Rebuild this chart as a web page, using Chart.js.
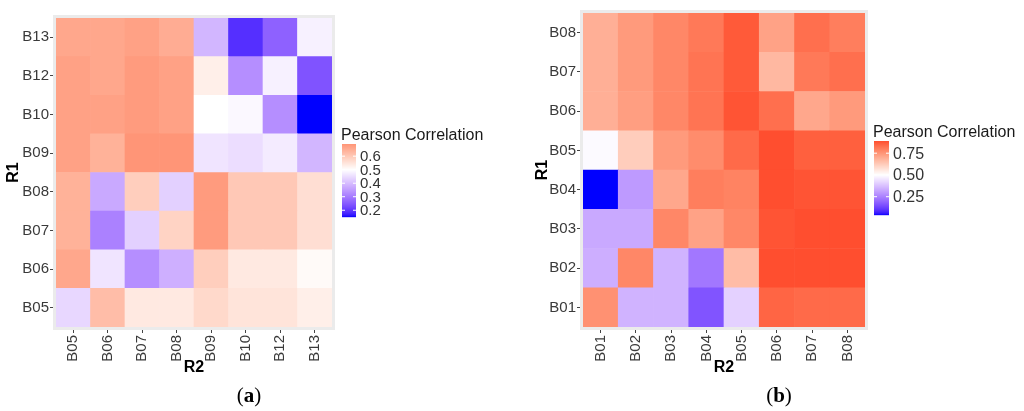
<!DOCTYPE html>
<html>
<head>
<meta charset="utf-8">
<script src="https://cdn.jsdelivr.net/npm/chart.js@4/dist/chart.umd.min.js"></script>
<style>
  body { margin: 0; background: #fff; width: 1024px; height: 411px; position: relative; overflow: hidden; }
  .panel { position: absolute; top: 0; height: 411px; }
  .cap { position: absolute; top: 383px; font-family: "Liberation Serif", serif; font-size: 21px; color: #000; transform: translateX(-50%); }
</style>
</head>
<body>
<div class="panel" style="left:0;width:510px;"><canvas id="heatA"></canvas></div>
<div class="panel" style="left:520px;width:504px;"><canvas id="heatB"></canvas></div>
<div class="cap" style="left:249px;">(<b>a</b>)</div>
<div class="cap" style="left:779px;">(<b>b</b>)</div>
<script>
// panel (a) : R2 columns, R1 rows (bottom -> top)
const colsA = ['B05', 'B06', 'B07', 'B08', 'B09', 'B10', 'B12', 'B13'];
const rowsA = ['B05', 'B06', 'B07', 'B08', 'B09', 'B10', 'B12', 'B13'];
const a_B05 = [0.44, 0.62, 0.54, 0.54, 0.57, 0.55, 0.55, 0.53];
const a_B06 = [0.66, 0.46, 0.33, 0.38, 0.59, 0.54, 0.54, 0.51];
const a_B07 = [0.64, 0.31, 0.43, 0.58, 0.68, 0.60, 0.60, 0.56];
const a_B08 = [0.64, 0.37, 0.59, 0.43, 0.68, 0.60, 0.60, 0.56];
const a_B09 = [0.67, 0.64, 0.69, 0.69, 0.46, 0.45, 0.47, 0.39];
const a_B10 = [0.67, 0.67, 0.68, 0.67, 0.50, 0.49, 0.33, 0.15];
const a_B12 = [0.67, 0.66, 0.68, 0.67, 0.53, 0.33, 0.48, 0.24];
const a_B13 = [0.66, 0.66, 0.67, 0.65, 0.39, 0.19, 0.26, 0.48];
const ticksA = [0.2, 0.3, 0.4, 0.5, 0.6];

// panel (b)
const colsB = ['B01', 'B02', 'B03', 'B04', 'B05', 'B06', 'B07', 'B08'];
const rowsB = ['B01', 'B02', 'B03', 'B04', 'B05', 'B06', 'B07', 'B08'];
const b_B01 = [0.76, 0.35, 0.35, 0.16, 0.41, 0.85, 0.84, 0.84];
const b_B02 = [0.34, 0.78, 0.35, 0.23, 0.66, 0.89, 0.89, 0.89];
const b_B03 = [0.33, 0.33, 0.78, 0.72, 0.78, 0.88, 0.89, 0.89];
const b_B04 = [0.04, 0.30, 0.71, 0.80, 0.79, 0.89, 0.88, 0.88];
const b_B05 = [0.49, 0.62, 0.74, 0.77, 0.84, 0.89, 0.86, 0.86];
const b_B06 = [0.69, 0.73, 0.78, 0.82, 0.88, 0.83, 0.71, 0.74];
const b_B07 = [0.69, 0.74, 0.78, 0.82, 0.87, 0.67, 0.81, 0.83];
const b_B08 = [0.69, 0.74, 0.78, 0.81, 0.87, 0.72, 0.83, 0.80];
const ticksB = [0.25, 0.5, 0.75];

const matA = [a_B05, a_B06, a_B07, a_B08, a_B09, a_B10, a_B12, a_B13];
const matB = [b_B01, b_B02, b_B03, b_B04, b_B05, b_B06, b_B07, b_B08];

// --- colour scale: blue - white - red, midpoint 0.5, interpolated in Lab
function toLin(c) { c /= 255; return c <= 0.04045 ? c / 12.92 : Math.pow((c + 0.055) / 1.055, 2.4); }
function fromLin(c) { c = c <= 0.0031308 ? 12.92 * c : 1.055 * Math.pow(c, 1 / 2.4) - 0.055; return Math.round(Math.max(0, Math.min(1, c)) * 255); }
function rgb2lab(rgb) {
    const r = toLin(rgb[0]), g = toLin(rgb[1]), b = toLin(rgb[2]);
    let x = (0.4124 * r + 0.3576 * g + 0.1805 * b) / 0.95047;
    let y = (0.2126 * r + 0.7152 * g + 0.0722 * b);
    let z = (0.0193 * r + 0.1192 * g + 0.9505 * b) / 1.08883;
    const f = t => t > 0.008856 ? Math.cbrt(t) : 7.787 * t + 16 / 116;
    x = f(x); y = f(y); z = f(z);
    return [116 * y - 16, 500 * (x - y), 200 * (y - z)];
}
function lab2rgb(lab) {
    const fy = (lab[0] + 16) / 116, fx = fy + lab[1] / 500, fz = fy - lab[2] / 200;
    const inv = t => t * t * t > 0.008856 ? t * t * t : (t - 16 / 116) / 7.787;
    const x = inv(fx) * 0.95047, y = inv(fy), z = inv(fz) * 1.08883;
    const r = 3.2406 * x - 1.5372 * y - 0.4986 * z;
    const g = -0.9689 * x + 1.8758 * y + 0.0415 * z;
    const b = 0.0557 * x - 0.2040 * y + 1.0570 * z;
    return 'rgb(' + fromLin(r) + ',' + fromLin(g) + ',' + fromLin(b) + ')';
}
const labLow = rgb2lab([0, 0, 255]), labMid = rgb2lab([255, 255, 255]), labHigh = rgb2lab([255, 0, 0]);

function makeScale(mat) {
    const all = mat.flat();
    const lo = Math.min(...all), hi = Math.max(...all);
    const dev = Math.max(0.5 - lo, hi - 0.5);
    const color = v => {
        const t = (v - 0.5) / dev;
        const end = t < 0 ? labLow : labHigh;
        const k = Math.min(1, Math.abs(t));
        return lab2rgb([0, 1, 2].map(i => labMid[i] + (end[i] - labMid[i]) * k));
    };
    return { lo, hi, color };
}

// gray panel behind the tiles + colour bar legend
const heatDecor = {
    id: 'heatDecor',
    beforeDatasetsDraw(chart, args, o) {
        const ctx = chart.ctx, a = chart.chartArea;
        ctx.save();
        ctx.fillStyle = '#EBEBEB';
        ctx.fillRect(a.left - 3, a.top - 3, a.right - a.left + 6, a.bottom - a.top + 6);
        ctx.restore();
    },
    afterDraw(chart, args, o) {
        const ctx = chart.ctx, sc = o.scale;
        ctx.save();
        ctx.fillStyle = '#1a1a1a';
        ctx.font = '16px "Liberation Sans", Arial, sans-serif';
        ctx.textBaseline = 'alphabetic';
        ctx.fillText('Pearson Correlation', o.x - 1, o.titleY);
        for (let i = 0; i < o.h; i++) {
            const v = sc.hi - (sc.hi - sc.lo) * (i + 0.5) / o.h;
            ctx.fillStyle = sc.color(v);
            ctx.fillRect(o.x, o.y + i, o.w, 1.2);
        }
        ctx.font = o.fs + 'px "Liberation Sans", Arial, sans-serif';
        ctx.textBaseline = 'middle';
        o.ticks.forEach(t => {
            const yy = o.y + o.h - (t - sc.lo) / (sc.hi - sc.lo) * o.h;
            ctx.strokeStyle = '#fff';
            ctx.lineWidth = 1;
            ctx.beginPath();
            ctx.moveTo(o.x, yy); ctx.lineTo(o.x + 3, yy);
            ctx.moveTo(o.x + o.w - 3, yy); ctx.lineTo(o.x + o.w, yy);
            ctx.stroke();
            ctx.fillStyle = '#333';
            ctx.fillText(o.fmt(t), o.x + o.w + o.gap, yy + 1);
        });
        ctx.restore();
    }
};

function drawHeat(id, cols, rows, mat, pad, yWidth, legend) {
    const sc = makeScale(mat);
    legend.scale = sc;
    const tickFont = { family: '"Liberation Sans", Arial, sans-serif', size: 15 };
    const titleFont = { family: '"Liberation Sans", Arial, sans-serif', size: 16, weight: 'bold' };
    return new Chart(document.getElementById(id), {
        type: 'bar',
        data: {
            labels: cols,
            datasets: rows.map((r, i) => ({
                label: r,
                data: cols.map(() => 1),
                backgroundColor: mat[i].map(v => sc.color(v)),
                borderWidth: 0,
                barPercentage: 1,
                categoryPercentage: 1
            }))
        },
        options: {
            responsive: true,
            maintainAspectRatio: false,
            animation: false,
            layout: { padding: pad },
            scales: {
                x: {
                    stacked: true,
                    grid: { offset: false, drawOnChartArea: false, tickLength: 6, tickColor: '#444' },
                    border: { display: false },
                    ticks: { font: tickFont, color: '#3a3a3a', minRotation: 90, maxRotation: 90, padding: 2 },
                    title: { display: true, text: 'R2', font: titleFont, color: '#000', padding: { top: 0, bottom: 4 } },
                    afterFit(s) { s.height = 54; }
                },
                y: {
                    stacked: true,
                    min: 0,
                    max: rows.length,
                    grid: { drawOnChartArea: false, tickLength: 6, tickColor: '#444' },
                    border: { display: false },
                    afterBuildTicks(s) { s.ticks = rows.map((r, i) => ({ value: i + 0.5 })); },
                    ticks: { font: tickFont, color: '#3a3a3a', padding: 1, callback: v => rows[Math.floor(v)] },
                    title: { display: true, text: 'R1', font: titleFont, color: '#000', padding: 4 },
                    afterFit(s) { s.width = yWidth; }
                }
            },
            plugins: {
                legend: { display: false },
                tooltip: { enabled: false },
                heatDecor: legend
            }
        },
        plugins: [heatDecor]
    });
}

drawHeat('heatA', colsA, rowsA, matA, { top: 18, right: 178, bottom: 30, left: 0 }, 56,
    { x: 342, y: 144, w: 14, h: 73, titleY: 140, ticks: ticksA, fs: 15, gap: 4, fmt: t => t.toFixed(1) });
drawHeat('heatB', colsB, rowsB, matB, { top: 13, right: 159, bottom: 30, left: 9 }, 54,
    { x: 354, y: 141, w: 15, h: 74, titleY: 137, ticks: ticksB, fs: 16, gap: 4, fmt: t => t.toFixed(2) });
</script>
</body>
</html>
